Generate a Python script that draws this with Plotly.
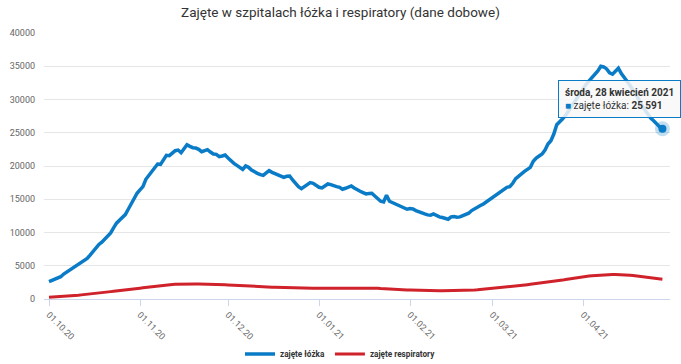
import pandas as pd
import plotly.graph_objects as go

start_date = "2020-10-01"
n_days = 210

beds = [
    2600, 2780, 2900, 3100, 3350, 3750, 4050, 4300, 4550, 4800,
    5100, 5400, 5750, 6100, 6600, 7200, 7800, 8200, 8550, 9000,
    9500, 9950, 10700, 11400, 11850, 12200, 12700, 13500, 14300, 15100,
    15900, 16400, 16900, 18000, 18600, 19100, 19600, 20300, 20250, 20900,
    21600, 21550, 21900, 22300, 22400, 22000, 22600, 23200, 22950, 22750,
    22700, 22500, 22150, 22300, 22450, 22100, 21800, 21750, 21400, 21500,
    21650, 21200, 20750, 20400, 20100, 19800, 19500, 20000, 19800, 19400,
    19100, 18900, 18700, 18600, 18950, 19300, 19050, 18850, 18650, 18400,
    18300, 18450, 18500, 17900, 17300, 16900, 16600, 16900, 17200, 17500,
    17400, 17100, 16800, 16700, 17000, 17300, 17200, 17000, 16900, 16800,
    16500, 16650, 16900, 17000, 16700, 16400, 16200, 16000, 15800, 15850,
    15900, 15500, 15100, 14700, 14600, 15600, 14700, 14500, 14200, 14000,
    13850, 13700, 13500, 13600, 13550, 13300, 13100, 12950, 12800, 12650,
    12600, 12800, 12550, 12350, 12250, 12150, 12000, 12350, 12400, 12300,
    12350, 12550, 12700, 12900, 13300, 13600, 13800, 14050, 14300, 14600,
    14900, 15250, 15600, 15900, 16250, 16550, 16800, 16900, 17400, 18100,
    18500, 18800, 19200, 19500, 19800, 20700, 21200, 21500, 21800, 22400,
    23300, 23800, 24800, 26200, 26600, 27100, 27600, 28300, 28900, 29600,
    30300, 31000, 31700, 32300, 32800, 33300, 33800, 34300, 35000, 34900,
    34600, 34000, 33800, 34300, 34700, 33900, 33200, 32700, 32100, 31400,
    30800, 30000, 29100, 28400, 27700, 27200, 26800, 26300, 25900, 25591,
]

respirators = [
    250, 270, 290, 310, 340, 370, 400, 430, 470, 510,
    560, 620, 680, 740, 790, 830, 870, 910, 960, 1010,
    1060, 1110, 1160, 1200, 1250, 1300, 1350, 1400, 1450, 1500,
    1560, 1620, 1680, 1740, 1800, 1860, 1920, 1980, 2030, 2080,
    2120, 2160, 2190, 2220, 2240, 2250, 2250, 2250, 2260, 2260,
    2260, 2250, 2250, 2250, 2240, 2230, 2220, 2210, 2200, 2180,
    2150, 2120, 2090, 2060, 2030, 2000, 1970, 1940, 1910, 1880,
    1860, 1840, 1820, 1810, 1800, 1790, 1780, 1770, 1750, 1730,
    1710, 1700, 1690, 1680, 1670, 1660, 1650, 1640, 1630, 1620,
    1610, 1610, 1610, 1620, 1640, 1660, 1680, 1690, 1700, 1700,
    1700, 1700, 1700, 1710, 1710, 1700, 1700, 1690, 1690, 1690,
    1690, 1670, 1630, 1590, 1550, 1520, 1490, 1460, 1440, 1410,
    1390, 1370, 1350, 1340, 1320, 1310, 1300, 1290, 1280, 1270,
    1260, 1260, 1250, 1250, 1250, 1250, 1250, 1260, 1260, 1270,
    1280, 1290, 1300, 1320, 1340, 1360, 1380, 1420, 1460, 1510,
    1560, 1610, 1660, 1710, 1760, 1810, 1850, 1890, 1930, 1970,
    2010, 2060, 2110, 2160, 2210, 2260, 2310, 2360, 2410, 2460,
    2520, 2580, 2640, 2700, 2770, 2840, 2920, 3000, 3080, 3160,
    3220, 3280, 3340, 3400, 3450, 3500, 3540, 3580, 3610, 3640,
    3660, 3680, 3690, 3700, 3690, 3670, 3640, 3610, 3570, 3530,
    3480, 3430, 3380, 3330, 3270, 3210, 3150, 3080, 3020, 2960,
]

series_names = ["zajęte łóżka", "zajęte respiratory"]
title_text = "Zajęte w szpitalach łóżka i respiratory (dane dobowe)"
tooltip_date = "środa, 28 kwiecień 2021"
tooltip_value = "25 591"

dates = pd.date_range(start_date, periods=n_days, freq="D")

BLUE = "#0a7bc6"
RED = "#d0222b"
FONT = "Roboto"

fig = go.Figure()
fig.add_trace(go.Scatter(x=dates, y=beds, mode="lines", name=series_names[0],
                         line=dict(color=BLUE, width=3.5)))
fig.add_trace(go.Scatter(x=dates, y=respirators, mode="lines", name=series_names[1],
                         line=dict(color=RED, width=3)))
# hover halo + point on last value
fig.add_trace(go.Scatter(x=[dates[-1]], y=[beds[-1]], mode="markers", showlegend=False,
                         marker=dict(size=15, color="rgba(10,123,198,0.25)")))
fig.add_trace(go.Scatter(x=[dates[-1]], y=[beds[-1]], mode="markers", showlegend=False,
                         marker=dict(size=8, color=BLUE)))

fig.add_annotation(
    x=dates[-1], y=beds[-1], xref="x", yref="y",
    xanchor="right", yanchor="bottom", xshift=19, yshift=11,
    text=(f"<b>{tooltip_date}</b><br><span style='color:{BLUE}'>■</span> "
          f"{series_names[0]}: <b>{tooltip_value}</b>"),
    showarrow=False, align="left",
    font=dict(family=FONT, size=10, color="#333333"),
    bgcolor="rgba(248,248,248,0.85)", bordercolor=BLUE, borderwidth=1, borderpad=6,
)

fig.update_layout(
    width=681, height=364,
    margin=dict(l=44, r=11, t=33, b=65, autoexpand=False),
    paper_bgcolor="white", plot_bgcolor="white",
    font=dict(family=FONT, size=9, color="#666666"),
    title=dict(text=title_text, x=0.5, xanchor="center", y=1 - 12 / 364, yanchor="middle",
               yref="container",
               font=dict(family=FONT, size=13.5, color="#333333")),
    showlegend=True,
    legend=dict(orientation="h", x=0.5, xanchor="center", xref="container",
                y=10 / 364, yanchor="middle", yref="container",
                font=dict(family=FONT, size=8.2, color="#333333", weight="bold"),
                itemwidth=30, tracegroupgap=0),
    hovermode=False,
)

fig.update_xaxes(
    type="date", automargin=False,
    range=["2020-09-29 07:00", "2021-04-30 14:00"],
    tick0="2020-10-01", dtick="M1", tickformat="%d.%m.%y",
    tickangle=45, ticks="outside", ticklen=6, tickcolor="#ccd6eb",
    showline=True, linecolor="#ccd6eb", linewidth=1,
    showgrid=False, zeroline=False,
    tickfont=dict(family=FONT, size=9, color="#6b6b6b"),
)
fig.update_yaxes(
    range=[0, 40000], dtick=5000, tickformat="d", automargin=False,
    showgrid=True, gridcolor="#e6e6e6", gridwidth=1,
    zeroline=False, showline=False, ticks="",
    ticklabelstandoff=8,
    tickfont=dict(family=FONT, size=9, color="#666666"),
)

fig.write_html(
    "out.html",
    config={"displayModeBar": False},
    post_script="document.body.style.margin='0';document.body.style.overflow='hidden';",
)
